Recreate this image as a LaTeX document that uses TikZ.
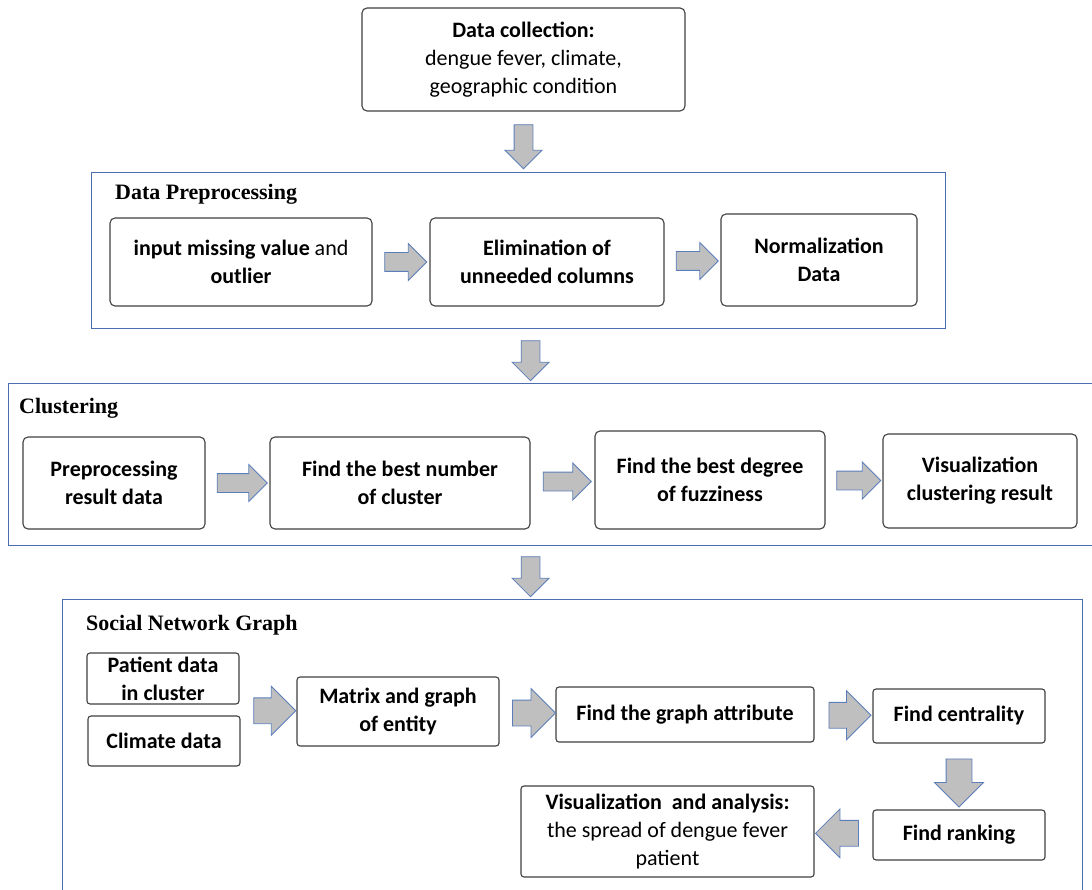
\documentclass[tikz,border=0pt]{standalone}
\usepackage{fontspec}
\setmainfont{Carlito}
\newfontfamily\titlefont{Liberation Serif}
\usetikzlibrary{shapes.arrows,calc}

\definecolor{frameblue}{HTML}{4A6DB0}
\definecolor{boxgray}{HTML}{404040}
\definecolor{arrfill}{HTML}{BFBFBF}
\definecolor{arredge}{HTML}{5B7DBA}

\tikzset{
  frame/.style={draw=frameblue, line width=1pt, inner sep=0pt},
  ttl/.style={anchor=base west, inner sep=0pt, font=\titlefont\bfseries\fontsize{22}{26}\selectfont},
  stepbox/.style={draw=boxgray, line width=1.1pt, rounded corners=5pt, fill=white,
    align=center, inner sep=0pt, font=\fontsize{22}{28}\selectfont},
  blkarr/.style={single arrow, draw=arredge, fill=arrfill, line width=0.8pt,
    inner sep=0pt, inner ysep=9pt, single arrow head extend=9pt, minimum height=#1},
  bigarr/.style={single arrow, draw=arredge, fill=arrfill, line width=0.8pt,
    inner sep=0pt, inner ysep=12.5pt, single arrow head extend=11.5pt, minimum height=#1}
}

\begin{document}
\begin{tikzpicture}[x=1pt, y=-1pt]
  \useasboundingbox (0,0) rectangle (1092,890);

  \node[frame, minimum width=854pt, minimum height=156pt] (dp) at (518,251) {};
  \node[frame, minimum width=1087pt, minimum height=162pt] (cl) at (551.5,464) {};
  \node[frame, minimum width=1020pt, minimum height=301pt] (sng) at (572,749.5) {};

  \node[ttl] (dpt) at (115,200) {Data Preprocessing};
  \node[ttl] (clt) at (19,413) {Clustering};
  \node[ttl] (sngt) at (86,630) {Social Network Graph};

  \node[stepbox, minimum width=323pt, minimum height=103pt] (dc) at (523.5,59.5)
    {\textbf{Data collection:}\\dengue fever, climate,\\geographic condition};

  \node[stepbox, minimum width=262pt, minimum height=88pt] (mv) at (241,262)
    {\textbf{input missing value} and\\\textbf{outlier}};
  \node[stepbox, minimum width=234pt, minimum height=88pt] (el) at (547,262)
    {\textbf{Elimination of}\\\textbf{unneeded columns}};
  \node[stepbox, minimum width=196pt, minimum height=92pt] (nd) at (819,260)
    {\textbf{Normalization}\\\textbf{Data}};

  \node[stepbox, minimum width=182pt, minimum height=92pt] (pr) at (114,483)
    {\textbf{Preprocessing}\\\textbf{result data}};
  \node[stepbox, minimum width=260pt, minimum height=92pt] (bn) at (400,483)
    {\textbf{Find the best number}\\\textbf{of cluster}};
  \node[stepbox, minimum width=230pt, minimum height=98pt] (fz) at (710,480)
    {\textbf{Find the best degree}\\\textbf{of fuzziness}};
  \node[stepbox, minimum width=194pt, minimum height=94pt] (vc) at (980,481)
    {\textbf{Visualization}\\\textbf{clustering result}};

  \node[stepbox, rounded corners=3pt, minimum width=152pt, minimum height=51pt] (pd) at (163,678.5)
    {\textbf{Patient data}\\\textbf{in cluster}};
  \node[stepbox, rounded corners=3pt, minimum width=152pt, minimum height=50pt] (cd) at (164,741)
    {\textbf{Climate data}};
  \node[stepbox, rounded corners=3pt, minimum width=202pt, minimum height=69pt] (mx) at (398,711.5)
    {\textbf{Matrix and graph}\\\textbf{of entity}};
  \node[stepbox, rounded corners=3pt, minimum width=258pt, minimum height=55pt] (ga) at (685,714.5)
    {\textbf{Find the graph attribute}};
  \node[stepbox, rounded corners=3pt, minimum width=172pt, minimum height=54pt] (ce) at (959,716)
    {\textbf{Find centrality}};
  \node[stepbox, rounded corners=3pt, minimum width=172pt, minimum height=50pt] (rk) at (959,835)
    {\textbf{Find ranking}};
  \node[stepbox, rounded corners=3pt, minimum width=293pt, minimum height=91pt] (va) at (667.5,831.5)
    {\textbf{Visualization\ \ and analysis:}\\the spread of dengue fever\\patient};

  \node[blkarr=44pt, rotate=-90] (a1) at ($(dc.south)!0.5!(dc.south |- dp.north)$) {};
  \node[blkarr=40pt, rotate=-90] (a2) at ($(dp.south -| bn.east)!0.5!(cl.north -| bn.east)$) {};
  \node[blkarr=40pt, rotate=-90] (a3) at ($(cl.south -| bn.east)!0.5!(sng.north -| bn.east)$) {};

  \node[blkarr=42pt] (b1) at ($(mv.east)!0.5!(el.west)$) {};
  \node[blkarr=42pt] (b2) at ($(el.east)!0.5!(nd.west)$) {};

  \node[blkarr=50pt] (c1) at ($(pr.east)!0.5!(bn.west)$) {};
  \node[blkarr=48pt] (c2) at ($(bn.east)!0.5!(fz.west)$) {};
  \node[blkarr=44pt] (c3) at ($(fz.east)!0.5!(vc.west)$) {};

  \coordinate (pc) at ($(pd.south east)!0.5!(cd.north east)$);
  \node[bigarr=42pt] (s1) at ($(pc)!0.5!(mx.west)$) {};
  \node[bigarr=43pt] (s2) at ($(mx.east)!0.5!(ga.west)$) {};
  \node[bigarr=42pt] (s3) at ($(ga.east)!0.5!(ce.west)$) {};
  \node[bigarr=48pt, rotate=-90] (s4) at ($(ce.south)!0.5!(rk.north)$) {};
  \node[bigarr=43pt, rotate=180] (s5) at ($(rk.west)!0.5!(va.east)$) {};
\end{tikzpicture}
\end{document}
